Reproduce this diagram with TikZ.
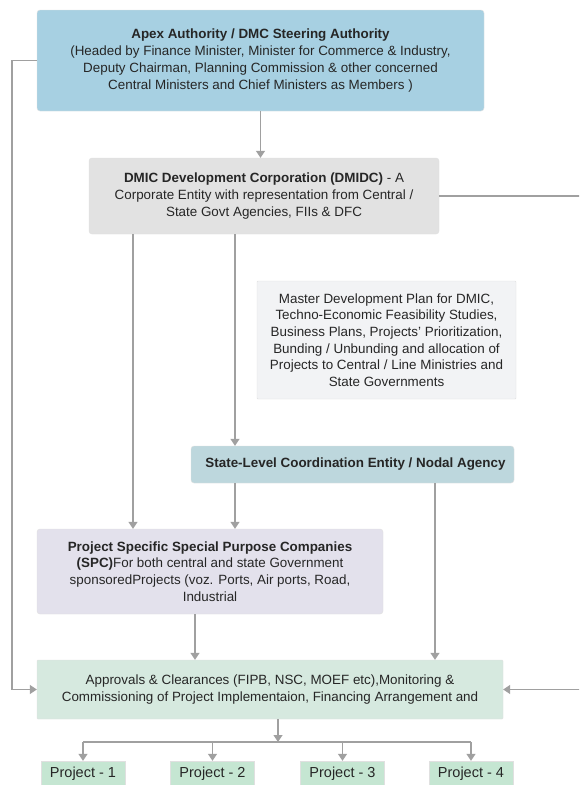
\documentclass[tikz,border=0pt]{standalone}
\usepackage{fontspec}
\setmainfont{Liberation Sans}
\usetikzlibrary{arrows.meta}
\definecolor{apexblue}{HTML}{A7D0E2}
\definecolor{corpgray}{HTML}{E2E2E2}
\definecolor{plangray}{HTML}{F2F3F5}
\definecolor{stateblue}{HTML}{BDD7DD}
\definecolor{spclilac}{HTML}{E3E1EC}
\definecolor{apprgreen}{HTML}{D6E9DF}
\definecolor{projgreen}{HTML}{C5E6D2}
\definecolor{linegray}{HTML}{A0A0A0}

\begin{document}
\begin{tikzpicture}[x=1pt, y=-1pt,
  box/.style={draw=black!12, rounded corners=3pt, inner sep=0pt, align=center,
    font=\fontsize{13.4}{16.7}\selectfont, text=black!85},
  projbox/.style={box, rounded corners=0pt, fill=projgreen, minimum width=84, minimum height=26,
    font=\fontsize{14.5}{16.7}\selectfont},
  conn/.style={draw=linegray, line width=1.2pt},
  arr/.style={conn, -{Triangle[width=9pt,length=7pt]}, color=linegray}]
\clip (0,0) rectangle (579,785);
\fill [white] (0,0) rectangle (579,785);

\node [box, fill=apexblue, minimum width=447, minimum height=101] (apex) at (260.5, 60.5)
  {\textbf{Apex Authority / DMC Steering Authority}\\
   (Headed by Finance Minister, Minister for Commerce \& Industry,\\
   Deputy Chairman, Planning Commission \& other concerned\\
   Central Ministers and Chief Ministers as Members )};

\node [box, fill=corpgray, minimum width=350, minimum height=76] (dmidc) at (264, 196)
  {\textbf{DMIC Development Corporation (DMIDC)} - A\\
   Corporate Entity with representation from Central /\\
   State Govt Agencies, FIIs \& DFC};

\node [box, rounded corners=1pt, fill=plangray, minimum width=259, minimum height=118] (plan) at (386.5, 340)
  {Master Development Plan for DMIC,\\
   Techno-Economic Feasibility Studies,\\
   Business Plans, Projects' Prioritization,\\
   Bunding / Unbunding and allocation of\\
   Projects to Central / Line Ministries and\\
   State Governments};

\node [box, fill=stateblue, minimum width=323, minimum height=37] (state) at (352.5, 464.5)
  {\hspace{6pt}\textbf{State-Level Coordination Entity / Nodal Agency}};

\node [box, fill=spclilac, minimum width=346, minimum height=85] (spc) at (210, 571.5)
  {\textbf{Project Specific Special Purpose Companies}\\
   \textbf{(SPC)}For both central and state Government\\
   sponsoredProjects (voz. Ports, Air ports, Road,\\
   Industrial};

\node [box, rounded corners=1pt, fill=apprgreen, minimum width=466, minimum height=59] (appr) at (270, 689.5)
  {Approvals \& Clearances (FIPB, NSC, MOEF etc),Monitoring \&\\
   Commissioning of Project Implementaion, Financing Arrangement and};

\node [projbox] (p1) at (83, 774) {Project - 1};
\node [projbox] (p2) at (212.5, 774) {Project - 2};
\node [projbox] (p3) at (342.5, 774) {Project - 3};
\node [projbox] (p4) at (471, 774) {Project - 4};

% drop points
\coordinate (c1) at (133, 0);
\coordinate (c2) at (235, 0);
\coordinate (c3) at (435, 0);
\coordinate (c4) at (195, 0);
\coordinate (bus) at (278, 742);

\draw [arr] (apex.south) -- (apex.south |- dmidc.north);
\draw [arr] (apex.west) -- (12, 60.5) |- (appr.west);
\draw [arr] (dmidc.east) -- (600, 196) |- (appr.east);

\draw [arr] (dmidc.south -| c1) -- (spc.north -| c1);
\draw [arr] (dmidc.south -| c2) -- (state.north -| c2);
\draw [arr] (state.south -| c2) -- (spc.north -| c2);
\draw [arr] (state.south -| c3) -- (appr.north -| c3);
\draw [arr] (spc.south -| c4) -- (appr.north -| c4);

\draw [arr] (appr.south -| bus) -- (bus);
\draw [conn] (p1.north |- bus) -- (p4.north |- bus);
\foreach \i in {1,2,3,4}
  \draw [arr] (p\i.north |- bus) -- (p\i.north);
\end{tikzpicture}
\end{document}
